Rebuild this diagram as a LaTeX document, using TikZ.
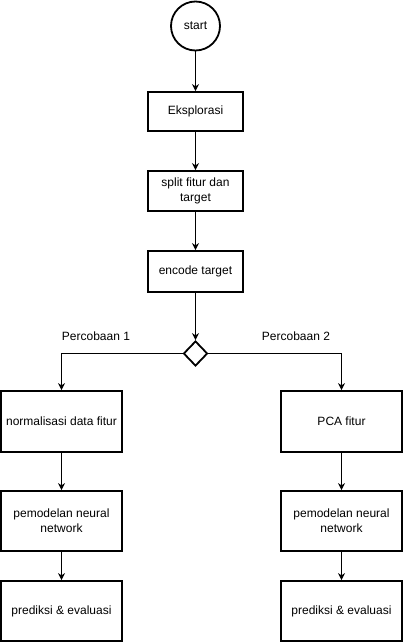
\documentclass[tikz,border=0pt]{standalone}
\usepackage{fontspec}
\setmainfont{Liberation Sans}
\usetikzlibrary{shapes.geometric,arrows.meta}

\begin{document}
\begin{tikzpicture}[x=1pt,y=-1pt,
    stepbox/.style={draw, rectangle, line width=1.8pt, align=center, font=\fontsize{12}{15}\selectfont},
    flow/.style={-{Stealth[length=7pt,width=7pt]}, line width=1.4pt},
    lbl/.style={font=\fontsize{12}{15}\selectfont}]
    \useasboundingbox (0,0) rectangle (402,642);
    % Start
    \node[draw, circle, line width=1.8pt, minimum size=49pt, inner sep=0pt, lbl] (start) at (195.5,26) {start};
    % Eksplorasi
    \node[stepbox, minimum width=95pt, minimum height=39pt] (eks) at (195.5,111.5) {Eksplorasi};
    % Split fitur dan target
    \node[stepbox, minimum width=95pt, minimum height=40pt] (split) at (195.5,191) {split fitur dan\\target};
    % Encode target
    \node[stepbox, minimum width=95pt, minimum height=41pt] (enc) at (195.5,271.5) {encode target};
    % Percabangan
    \node[draw, diamond, line width=1.8pt, minimum width=24pt, minimum height=25pt, inner sep=0pt] (cab) at (195.5,353.5) {};
    \node[lbl] (p1) at (96,336) {Percobaan 1};
    \node[lbl] (p2) at (296,336) {Percobaan 2};

    % Percobaan 1
    \node[stepbox, minimum width=121pt, minimum height=61pt] (norm) at (61.5,421.5) {normalisasi data fitur};
    \node[stepbox, minimum width=121pt, minimum height=60pt] (model1) at (61.5,521) {pemodelan neural\\network};
    \node[stepbox, minimum width=121pt, minimum height=60pt] (pred1) at (61.5,611) {prediksi \& evaluasi};
    % Percobaan 2
    \node[stepbox, minimum width=121pt, minimum height=61pt] (pca) at (341.5,421.5) {PCA fitur};
    \node[stepbox, minimum width=121pt, minimum height=60pt] (model2) at (341.5,521) {pemodelan neural\\network};
    \node[stepbox, minimum width=121pt, minimum height=60pt] (pred2) at (341.5,611) {prediksi \& evaluasi};

    % Arrows
    \draw[flow] (start) -- (eks);
    \draw[flow] (eks) -- (split);
    \draw[flow] (split) -- (enc);
    \draw[flow] (enc) -- (cab);
    \draw[flow] (cab.west) -| (norm.north);
    \draw[flow] (cab.east) -| (pca.north);
    \draw[flow] (norm) -- (model1);
    \draw[flow] (model1) -- (pred1);
    \draw[flow] (pca) -- (model2);
    \draw[flow] (model2) -- (pred2);
\end{tikzpicture}
\end{document}
